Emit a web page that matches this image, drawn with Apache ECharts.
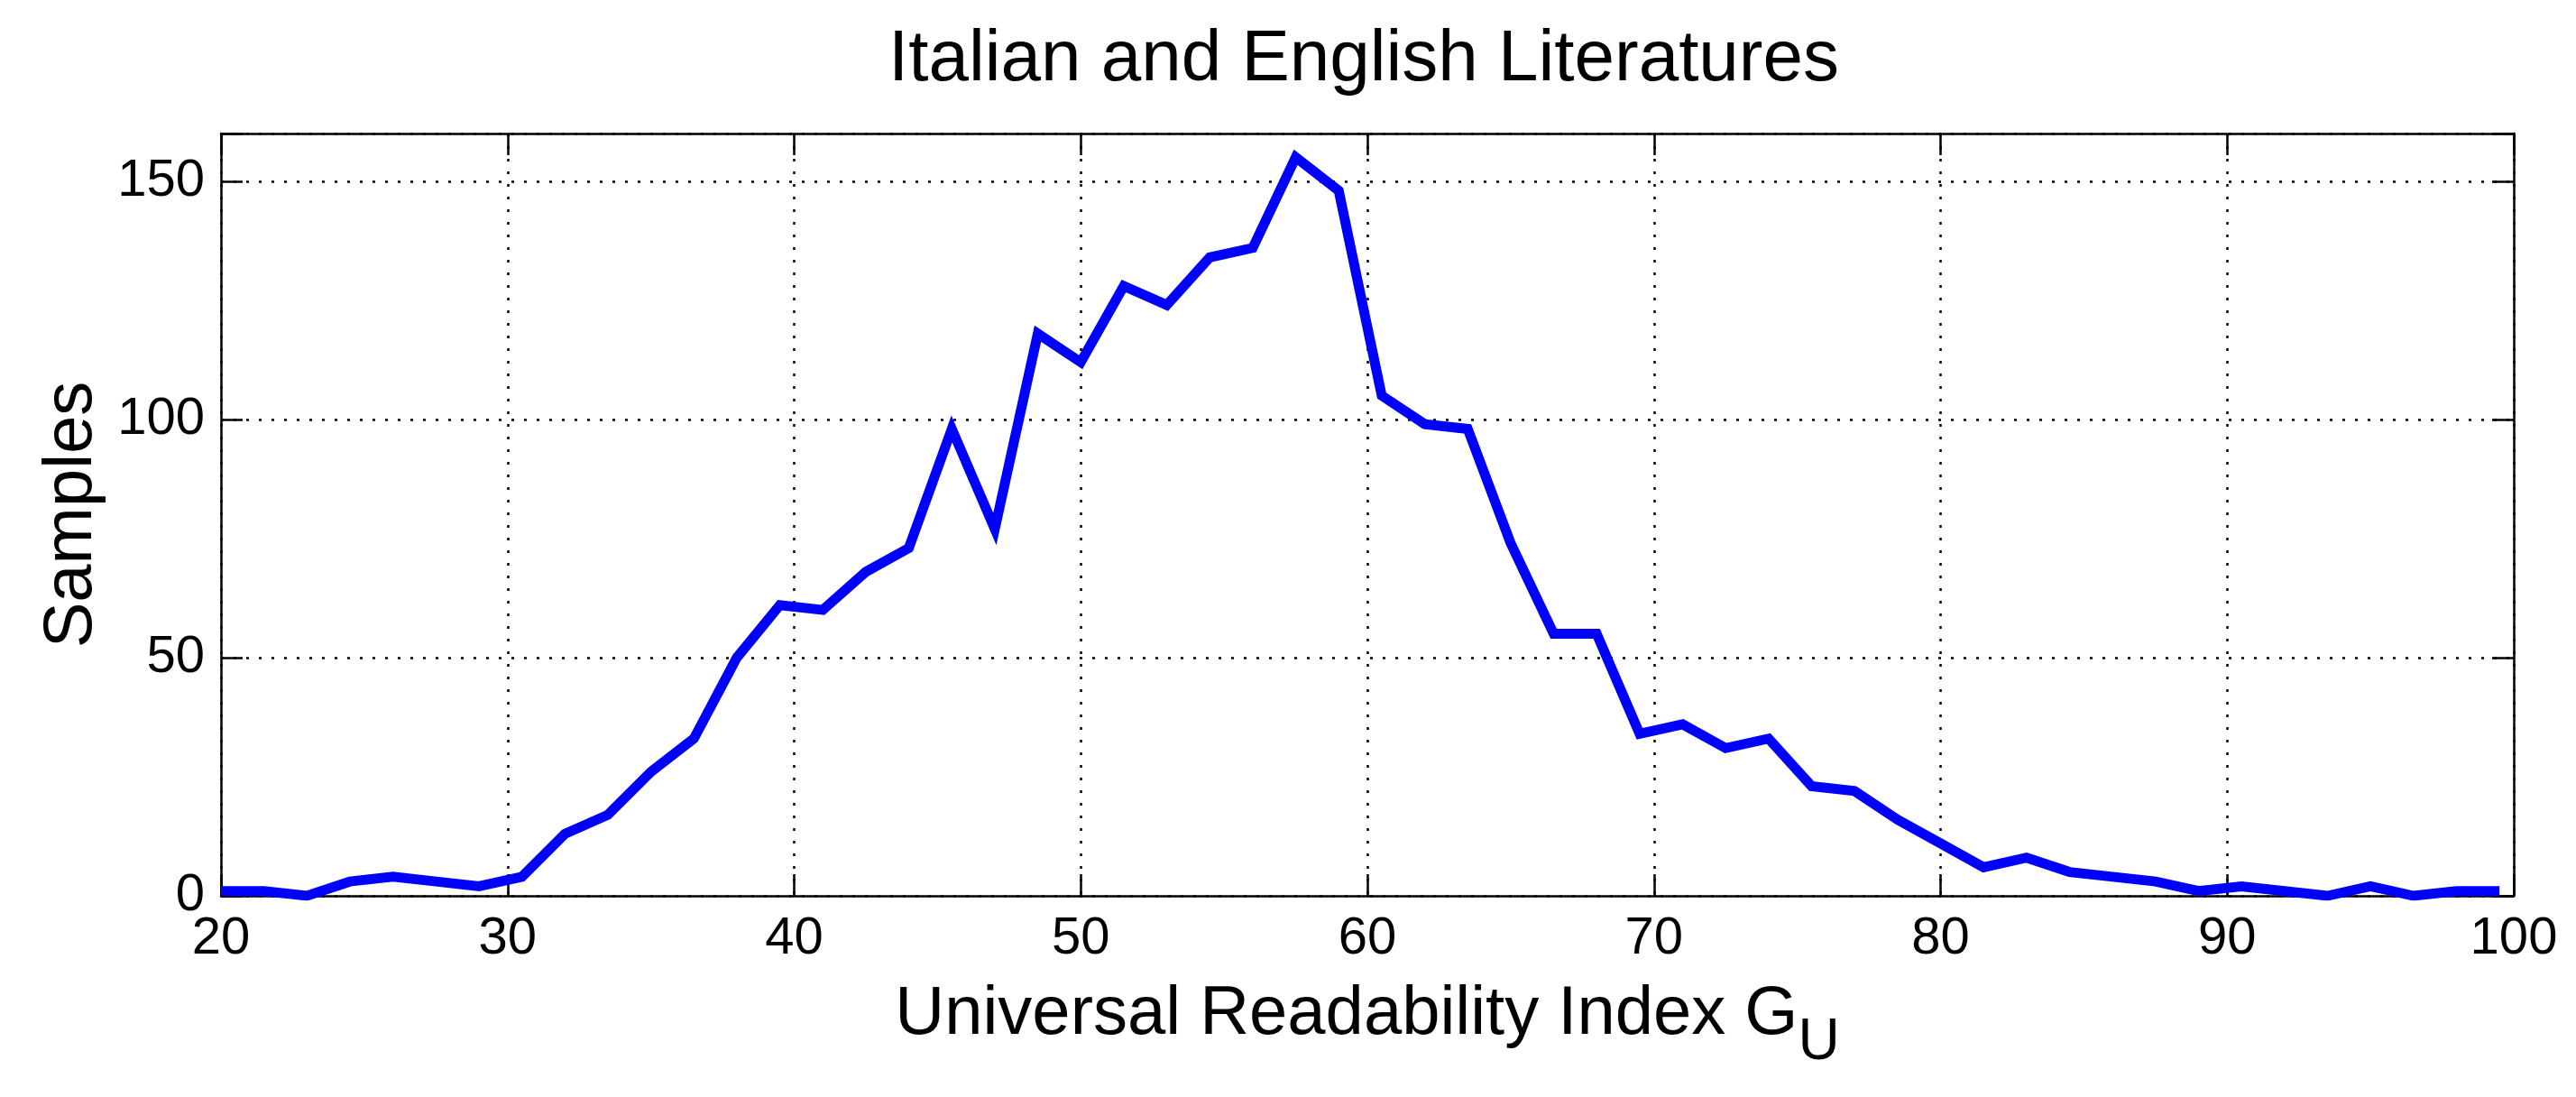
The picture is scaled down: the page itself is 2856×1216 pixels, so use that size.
<!DOCTYPE html>
<html>
<head>
<meta charset="utf-8">
<script src="https://cdn.jsdelivr.net/npm/echarts@6/dist/echarts.min.js"></script>
<style>
html,body{margin:0;padding:0;background:#fff;}
#chart{width:2856px;height:1216px;}
</style>
</head>
<body>
<div id="chart"></div>
<script>
// ---- data ----
const titleText = 'Italian and English Literatures';
const xAxisLabel = 'Universal Readability Index G';
const xAxisSub = 'U';
const yAxisLabel = 'Samples';
const readabilityIndex = [20, 21.5, 23, 24.5, 26, 27.5, 29, 30.5, 32, 33.5,
  35, 36.5, 38, 39.5, 41, 42.5, 44, 45.5, 47, 48.5,
  50, 51.5, 53, 54.5, 56, 57.5, 59, 60.5, 62, 63.5,
  65, 66.5, 68, 69.5, 71, 72.5, 74, 75.5, 77, 78.5,
  80, 81.5, 83, 84.5, 86, 87.5, 89, 90.5, 92, 93.5,
  95, 96.5, 98, 99.5];
const samples = [1, 1, 0, 3, 4, 3, 2, 4, 13, 17,
  26, 33, 50, 61, 60, 68, 73, 98, 77, 118,
  112, 128, 124, 134, 136, 155, 148, 105, 99, 98,
  74, 55, 55, 34, 36, 31, 33, 23, 22, 16,
  11, 6, 8, 5, 4, 3, 1, 2, 1, 0,
  2, 0, 1, 1];
const xTicks = [20, 30, 40, 50, 60, 70, 80, 90, 100];
const yTicks = [0, 50, 100, 150];

// ---- chart ----
const FONT = '"Liberation Sans", Arial, Helvetica, sans-serif';
const chart = echarts.init(document.getElementById('chart'), null, {renderer: 'canvas'});
const frame = {show: true, onZero: false, lineStyle: {color: '#000', width: 2.5}};
const tick = {show: true, inside: true, length: 24, lineStyle: {color: '#000', width: 2.5}};
const grid = {show: true, lineStyle: {color: '#000', width: 2.5, type: [3, 11]}};
const xMin = xTicks[0], xMax = xTicks[xTicks.length - 1];
const yMin = yTicks[0], yMax = 160;

const option = {
  animation: false,
  backgroundColor: '#fff',
  textStyle: {fontFamily: FONT},
  title: {
    text: titleText,
    left: 1512, top: 27, textAlign: 'center', padding: 0,
    textStyle: {fontFamily: FONT, fontSize: 80, fontWeight: 'normal', color: '#000'}
  },
  grid: {left: 245, right: 69, top: 148, bottom: 223, containLabel: false},
  xAxis: [{
    type: 'value', min: xMin, max: xMax, interval: 10,
    axisLine: frame, axisTick: tick, splitLine: grid,
    axisLabel: {fontSize: 58, color: '#000', margin: 19, fontFamily: FONT,
      formatter: v => xTicks.includes(v) ? String(v) : ''},
    name: '{m|' + xAxisLabel + '}{s|' + xAxisSub + '}',
    nameLocation: 'middle', nameGap: 94,
    nameTextStyle: {
      rich: {
        m: {fontSize: 76, lineHeight: 80, verticalAlign: 'top', color: '#000', fontFamily: FONT},
        s: {fontSize: 64, lineHeight: 64, verticalAlign: 'top', padding: [37, 0, 0, 0], color: '#000', fontFamily: FONT}
      }
    }
  }, {
    type: 'value', position: 'top', min: xMin, max: xMax, interval: 10,
    axisLine: frame, axisTick: tick, splitLine: {show: false}, axisLabel: {show: false}
  }],
  yAxis: [{
    type: 'value', min: yMin, max: yMax, interval: 50,
    axisLine: frame, axisTick: tick, splitLine: grid,
    axisLabel: {fontSize: 58, color: '#000', margin: 18, fontFamily: FONT,
      formatter: v => yTicks.includes(v) ? String(v) : ''},
    name: yAxisLabel, nameLocation: 'middle', nameGap: 127,
    nameTextStyle: {fontSize: 76, color: '#000', fontFamily: FONT}
  }, {
    type: 'value', position: 'right', min: yMin, max: yMax, interval: 50,
    axisLine: frame, axisTick: tick, splitLine: {show: false}, axisLabel: {show: false}
  }],
  series: [{
    type: 'line',
    data: readabilityIndex.map((x, i) => [x, samples[i]]),
    xAxisIndex: 0, yAxisIndex: 0,
    showSymbol: false, symbol: 'none',
    lineStyle: {color: '#0000ff', width: 11, join: 'miter'},
    itemStyle: {color: '#0000ff'},
    clip: true,
    z: 3
  }]
};
chart.setOption(option);
</script>
</body>
</html>
